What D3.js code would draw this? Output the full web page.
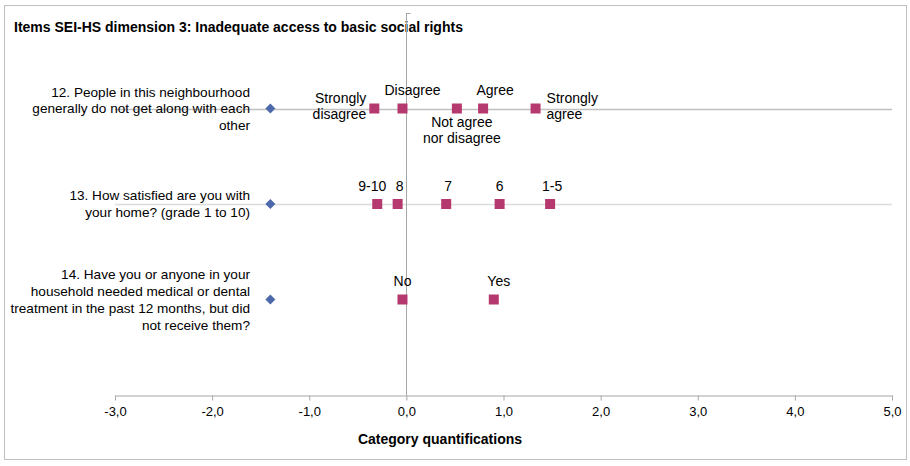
<!DOCTYPE html>
<html>
<head>
<meta charset="utf-8">
<script src="https://cdn.jsdelivr.net/npm/d3@7"></script>
<style>
  html, body { margin: 0; padding: 0; background: #fff; }
  svg text { font-family: "Liberation Sans", Arial, sans-serif; fill: #000; }
</style>
</head>
<body>
<svg id="chart" width="910" height="466"></svg>
<script>
// ---- data ----
const chartTitle = "Items SEI-HS dimension 3: Inadequate access to basic social rights";
const axisTitle = "Category quantifications";
const items = [
  "12. People in this neighbourhood\ngenerally do not get along with each\nother",
  "13. How satisfied are you with\nyour home? (grade 1 to 10)",
  "14. Have you or anyone in your\nhousehold needed medical or dental\ntreatment in the past 12 months, but did\nnot receive them?"
];
const itemMarker = [-1.40, -1.40, -1.40];
const cats12 = ["Strongly\ndisagree", "Disagree", "Not agree\nnor disagree", "Agree", "Strongly\nagree"];
const vals12 = [-0.33, -0.04, 0.52, 0.79, 1.33];
const cats13 = ["9-10", "8", "7", "6", "1-5"];
const vals13 = [-0.30, -0.09, 0.41, 0.96, 1.48];
const cats14 = ["No", "Yes"];
const vals14 = [-0.04, 0.90];
const xTicks = [-3, -2, -1, 0, 1, 2, 3, 4, 5];

// label placement (layout only)
const place12 = ["left", "above", "below", "above", "right"];
const shift12 = [0, 10, 5, 12, 0];
const place13 = ["above", "above", "above", "above", "above"];
const shift13 = [-5, 2, 2, 0, 2];
const place14 = ["above", "above"];
const shift14 = [0, 5];

// ---- drawing ----
const svg = d3.select("#chart");
const x = d3.scaleLinear().domain([-3, 5]).range([115, 892]);
const y = d3.scaleLinear().domain([0, 4]).range([13, 395]);

// outer border
svg.append("rect").attr("x", 4.5).attr("y", 5.5).attr("width", 902).attr("height", 454)
  .attr("fill", "none").attr("stroke", "#bfbfbf").attr("stroke-width", 1);

// title
svg.append("text").attr("x", 14).attr("y", 32)
  .style("font-size", "14px").style("font-weight", "bold").text(chartTitle);

// horizontal item lines (rows 12 and 13)
const lineColors = ["#c0c0c0", "#dcdcdc"];
lineColors.forEach((c, i) => {
  svg.append("line")
    .attr("x1", x(-3)).attr("x2", x(5))
    .attr("y1", Math.round(y(i + 1)) + 0.5).attr("y2", Math.round(y(i + 1)) + 0.5)
    .attr("stroke", c).attr("stroke-width", 1.3);
});

// vertical zero line
svg.append("line").attr("x1", Math.round(x(0)) + 0.5).attr("x2", Math.round(x(0)) + 0.5)
  .attr("y1", y(0)).attr("y2", y(4)).attr("stroke", "#a6a6a6").attr("stroke-width", 1);
svg.append("line").attr("x1", Math.round(x(0)) + 0.5).attr("x2", Math.round(x(0)) + 4.5)
  .attr("y1", Math.round(y(0)) + 0.5).attr("y2", Math.round(y(0)) + 0.5)
  .attr("stroke", "#a6a6a6").attr("stroke-width", 1);

// x axis
const fmt = d => d3.format(".1f")(d).replace(".", ",").replace("−", "-");
const xAxis = d3.axisBottom(x).tickValues(xTicks).tickFormat(fmt).tickSize(5).tickSizeOuter(0).tickPadding(6);
const gx = svg.append("g").attr("transform", `translate(0,${Math.round(y(4)) + 0.5})`).call(xAxis);
gx.select(".domain").attr("stroke", "#a6a6a6");
gx.selectAll(".tick line").attr("stroke", "#a6a6a6");
gx.selectAll(".tick text")
  .style("font-family", "'Liberation Sans Narrow', 'Arial Narrow', sans-serif")
  .style("font-size", "13px").attr("fill", "#000");

// axis title
svg.append("text").attr("x", 440).attr("y", 444).attr("text-anchor", "middle")
  .style("font-family", "'Liberation Sans Narrow', 'Arial Narrow', sans-serif")
  .style("font-size", "14px").style("font-weight", "bold").text(axisTitle);

// item labels
items.forEach((t, i) => {
  const lines = t.split("\n");
  const cy = y(i + 1);
  const lh = lines.length > 3 ? 17 : 16.5;
  const tx = svg.append("text").attr("text-anchor", "end").style("font-size", "13.6px");
  lines.forEach((ln, k) => {
    tx.append("tspan").attr("x", 250)
      .attr("y", cy + (k - (lines.length - 1) / 2) * lh + 4.5).text(ln);
  });
});

// diamonds
svg.selectAll("path.diamond").data(itemMarker).enter().append("path")
  .attr("class", "diamond")
  .attr("d", d3.symbol().type(d3.symbolDiamond2).size(64))
  .attr("transform", (d, i) => `translate(${x(d)},${y(i + 1)})`)
  .attr("fill", "#4E68AC");

// category squares + labels
const rows = [
  { cats: cats12, vals: vals12, place: place12, shift: shift12 },
  { cats: cats13, vals: vals13, place: place13, shift: shift13 },
  { cats: cats14, vals: vals14, place: place14, shift: shift14 }
];
const sq = 10;
rows.forEach((r, i) => {
  const cy = y(i + 1);
  r.vals.forEach((v, j) => {
    svg.append("rect")
      .attr("x", x(v) - sq / 2).attr("y", cy - sq / 2)
      .attr("width", sq).attr("height", sq).attr("fill", "#B5386F");
    const lines = r.cats[j].split("\n");
    const p = r.place[j];
    const t = svg.append("text").style("font-size", "14px");
    let ax, anchor, y0;
    if (p === "above") { ax = x(v) + r.shift[j]; anchor = "middle"; y0 = cy - 13.5; }
    else if (p === "below") { ax = x(v) + r.shift[j]; anchor = "middle"; y0 = cy + 18.5; }
    else if (p === "left") { ax = x(v) - 8; anchor = "end"; y0 = cy - 5.5; }
    else { ax = x(v) + 11; anchor = "start"; y0 = cy - 5.5; }
    t.attr("text-anchor", anchor);
    lines.forEach((ln, k) => {
      t.append("tspan").attr("x", ax).attr("y", y0 + k * 15.5).text(ln);
    });
  });
});
</script>
</body>
</html>
